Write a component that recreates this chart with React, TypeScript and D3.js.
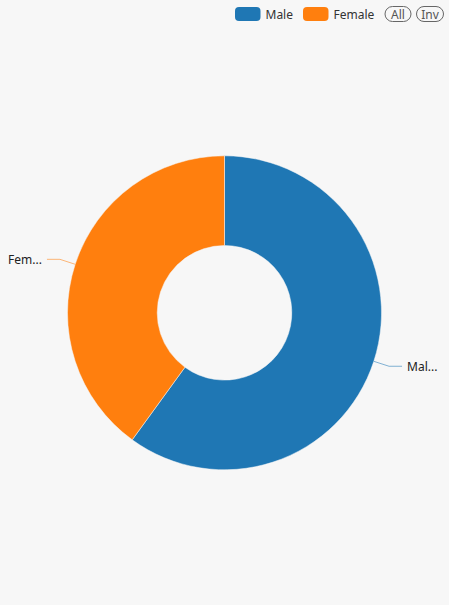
import React from "react";
import * as d3 from "d3";

const categories = ["Male", "Female"];
const values = [60, 40];
const colors = ["#1f77b4", "#ff7f0e"];
const labelTexts = ["Mal...", "Fem..."];

const W = 449;
const H = 605;
const cx = 224.5;
const cy = 312.8;
const outerR = 157;
const innerR = 67.3;

export default function App() {
  const pie = d3
    .pie<number>()
    .sort(null)
    .value((d) => d)
    .startAngle(0)
    .endAngle(2 * Math.PI);
  const arcs = pie(values);
  const arcGen = d3.arc<d3.PieArcDatum<number>>().innerRadius(innerR).outerRadius(outerR);
  const font = "'Noto Sans', 'Open Sans', sans-serif";

  const legendItems = [
    { x: 235, textX: 265.5 },
    { x: 303, textX: 333.5 },
  ];

  return (
    <svg
      width={W}
      height={H}
      style={{ position: "absolute", left: 0, top: 0, background: "#f7f7f7" }}
    >
      <rect x={0} y={0} width={W} height={H} fill="#f7f7f7" />
      <g transform={`translate(${cx},${cy})`}>
        {arcs.map((a, i) => (
          <path key={i} d={arcGen(a) || ""} fill={colors[i]} stroke="#f7f7f7" strokeWidth={0.5} />
        ))}
        {arcs.map((a, i) => {
          const mid = (a.startAngle + a.endAngle) / 2;
          const sx = Math.sin(mid);
          const sy = -Math.cos(mid);
          const p0 = [sx * outerR, sy * outerR];
          const p1 = [sx * (outerR + 16), sy * (outerR + 16)];
          const dir = sx >= 0 ? 1 : -1;
          const p2 = [p1[0] + dir * 13, p1[1]];
          return (
            <g key={"l" + i}>
              <polyline
                points={`${p0[0]},${p0[1]} ${p1[0]},${p1[1]} ${p2[0]},${p2[1]}`}
                fill="none"
                stroke={colors[i]}
                strokeOpacity={0.55}
                strokeWidth={1}
              />
              <text
                x={p2[0] + dir * 5}
                y={p2[1]}
                textAnchor={dir > 0 ? "start" : "end"}
                dominantBaseline="central"
                fontFamily={font}
                fontSize={12}
                fill="#222"
              >
                {labelTexts[i]}
              </text>
            </g>
          );
        })}
      </g>
      <g>
        {categories.map((c, i) => (
          <g key={c}>
            <rect x={legendItems[i].x} y={7} width={25.5} height={14} rx={4} fill={colors[i]} />
            <text
              x={legendItems[i].textX}
              y={14}
              dominantBaseline="central"
              fontFamily={font}
              fontSize={12}
              fill="#333"
            >
              {c}
            </text>
          </g>
        ))}
        <rect x={385} y={6.5} width={26} height={15} rx={7.5} fill="none" stroke="#666" strokeWidth={1} />
        <text x={398} y={14} textAnchor="middle" dominantBaseline="central" fontFamily={font} fontSize={12} fill="#555">
          All
        </text>
        <rect x={416.5} y={6.5} width={27} height={15} rx={7.5} fill="none" stroke="#666" strokeWidth={1} />
        <text x={430} y={14} textAnchor="middle" dominantBaseline="central" fontFamily={font} fontSize={12} fill="#555">
          Inv
        </text>
      </g>
    </svg>
  );
}
